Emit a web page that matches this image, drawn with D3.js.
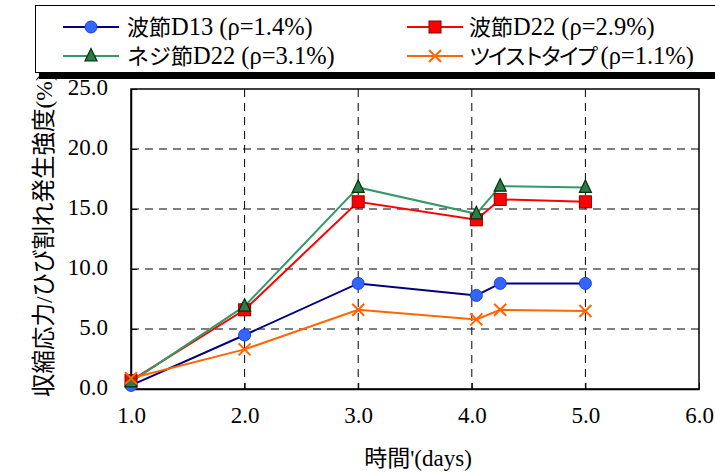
<!DOCTYPE html>
<html><head><meta charset="utf-8">
<script src="https://cdn.jsdelivr.net/npm/d3@7"></script>
<style>body{margin:0;background:#fff}svg{display:block}
svg text{font-family:"Liberation Serif","Times New Roman","DejaVu Serif","Noto Sans CJK JP",serif !important;}
</style>
</head><body>
<svg id="c" width="715" height="473"></svg>
<script>
const xTicks = [1,2,3,4,5,6];
const yTicks = [0,5,10,15,20,25];
const days = [1.0, 2.0, 3.0, 4.04, 4.25, 5.0];
const nami13 = [0.3, 4.5, 8.8, 7.8, 8.8, 8.8];
const nami22 = [0.7, 6.6, 15.6, 14.1, 15.8, 15.6];
const neji22 = [0.6, 6.9, 16.8, 14.6, 16.9, 16.8];
const twist = [0.9, 3.3, 6.6, 5.8, 6.6, 6.5];
const seriesNames = ["波節D13 (ρ=1.4%)","波節D22 (ρ=2.9%)","ネジ節D22 (ρ=3.1%)","ツイストタイプ (ρ=1.1%)"];
const xTitle = "時間'(days)";
const yTitle = "収縮応力/ひび割れ発生強度(%)";

const svg = d3.select("#c");
const L=131,R=699,T=89,B=389;
const x = d3.scaleLinear().domain([1,6]).range([L,R]);
const y = d3.scaleLinear().domain([0,25]).range([B,T]);

// grid
const g = svg.append("g");
g.selectAll(".vg").data(xTicks.slice(1,-1)).join("line")
  .attr("x1",d=>x(d)).attr("x2",d=>x(d)).attr("y1",T).attr("y2",B)
  .attr("stroke","#000").attr("stroke-width",1).attr("stroke-dasharray","8,6");
g.selectAll(".hg").data(yTicks.slice(1,-1)).join("line")
  .attr("y1",d=>y(d)).attr("y2",d=>y(d)).attr("x1",L).attr("x2",R)
  .attr("stroke","#000").attr("stroke-width",1).attr("stroke-dasharray","8,6");

// axes
const xAxis = svg.append("g").attr("transform",`translate(0,${B})`)
  .call(d3.axisBottom(x).tickValues(xTicks).tickFormat(d3.format(".1f")).tickSizeInner(-6).tickSizeOuter(0).tickPadding(18));
const yAxis = svg.append("g").attr("transform",`translate(${L},0)`)
  .call(d3.axisLeft(y).tickValues(yTicks).tickFormat(d3.format(".1f")).tickSizeInner(-6).tickSizeOuter(0).tickPadding(23));
[xAxis,yAxis].forEach(a=>{
  a.select(".domain").attr("stroke","#000").attr("stroke-width",1.5);
  a.selectAll("text").attr("font-size",23).attr("fill","#000");
});
yAxis.selectAll("text").attr("dy","0.25em");
svg.append("rect").attr("x",L).attr("y",T).attr("width",R-L).attr("height",B-T)
  .attr("fill","none").attr("stroke","#000").attr("stroke-width",1.5);

// titles
svg.append("text").attr("x",418).attr("y",466).attr("text-anchor","middle")
  .attr("font-size",23).text(xTitle);
svg.append("text").attr("transform","translate(52,397) rotate(-90)")
  .attr("font-size",23.5).text(yTitle);

// series
const series = [
  {name:seriesNames[0], vals:nami13, line:"#000080", fill:"#3366ff", stroke:"#1f3fd9", shape:"circle"},
  {name:seriesNames[1], vals:nami22, line:"#ff0000", fill:"#ff0000", stroke:"#8b0000", shape:"square"},
  {name:seriesNames[2], vals:neji22, line:"#339966", fill:"#2b7a4b", stroke:"#003300", shape:"triangle"},
  {name:seriesNames[3], vals:twist, line:"#ff6600", fill:"none", stroke:"#ff6600", shape:"x"}
];
function marker(sel, s){
  if(s.shape==="circle") sel.append("circle").attr("r",6).attr("fill",s.fill).attr("stroke",s.stroke).attr("stroke-width",1);
  else if(s.shape==="square") sel.append("rect").attr("x",-6).attr("y",-6).attr("width",12).attr("height",12).attr("fill",s.fill).attr("stroke",s.stroke).attr("stroke-width",1);
  else if(s.shape==="triangle") sel.append("path").attr("d","M0,-7.5L6,5L-6,5Z").attr("fill",s.fill).attr("stroke",s.stroke).attr("stroke-width",1.2);
  else sel.append("path").attr("d","M-6,-6L6,6M-6,6L6,-6").attr("stroke",s.stroke).attr("stroke-width",2).attr("fill","none");
}
const line = d3.line().x((d,i)=>x(days[i])).y(d=>y(d));
series.forEach(s=>{
  svg.append("path").datum(s.vals).attr("d",line).attr("fill","none").attr("stroke",s.line).attr("stroke-width",2);
});
series.forEach(s=>{
  s.vals.forEach((v,i)=>{
    const m = svg.append("g").attr("transform",`translate(${x(days[i])},${y(v)})`);
    marker(m,s);
  });
});

// legend
svg.append("rect").attr("x",39).attr("y",72.5).attr("width",690).attr("height",6.5).attr("fill","#000");
svg.append("rect").attr("x",35.5).attr("y",5.5).attr("width",700).attr("height",67).attr("fill","#fff").attr("stroke","#000").attr("stroke-width",1);
const pos = [[63,27],[407,27],[63,56],[407,56]];
series.forEach((s,i)=>{
  const [lx,ly] = pos[i];
  const lg = svg.append("g").attr("transform",`translate(${lx},${ly})`);
  lg.append("line").attr("x1",0).attr("x2",56).attr("y1",0).attr("y2",0).attr("stroke",s.line).attr("stroke-width",2);
  const m = lg.append("g").attr("transform","translate(28,0)");
  marker(m,s);
  const parts = s.name.match(/^([\u3000-\u9fff]+)(.*)$/);
  const t = lg.append("text").attr("x",lx===63?64:62).attr("y",8);
  const kana = /^[\u30a0-\u30ff]+$/.test(parts[1]);
  t.append("tspan").attr("font-size",22).attr("letter-spacing",kana?-4:0).text(parts[1]);
  t.append("tspan").attr("font-size",24.5).text(parts[2]);
});
</script>
</body></html>
